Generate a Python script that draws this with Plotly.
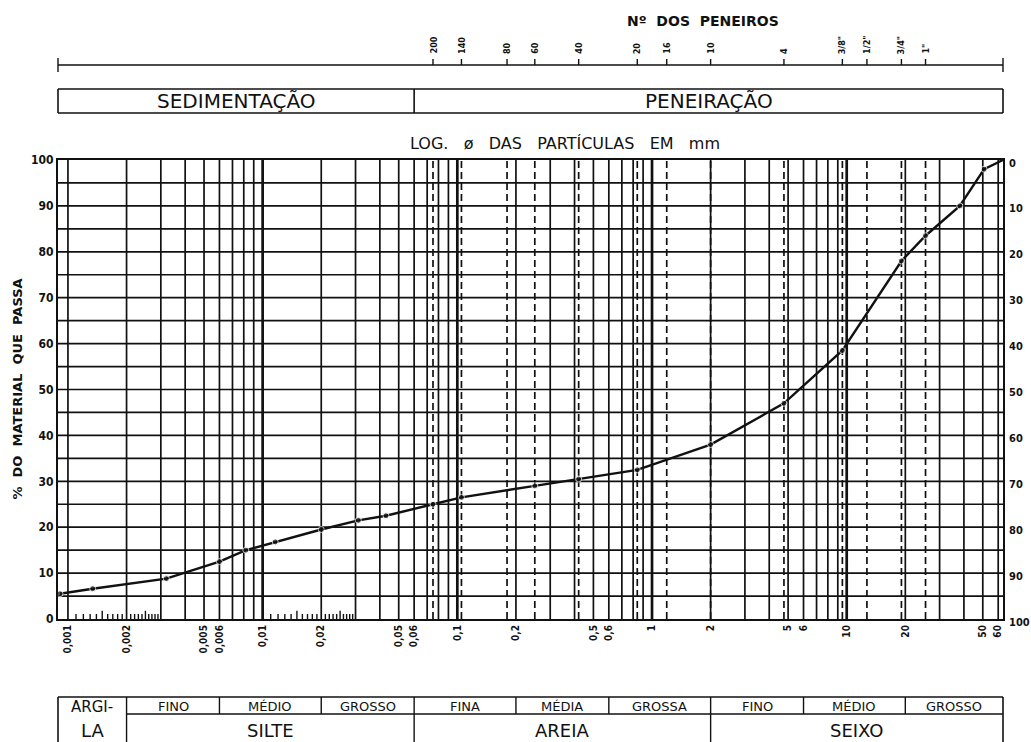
import numpy as np
import plotly.graph_objects as go

# Grain-size distribution: percent passing vs particle diameter (mm)
diam_mm = [0.00091, 0.00134, 0.0032, 0.0060, 0.0082, 0.0116, 0.020, 0.031, 0.043,
           0.075, 0.105, 0.25, 0.42, 0.84, 2.0, 4.76, 9.5, 19.1, 25.4, 38.1, 50.8, 63.5]
pct_passing = [5.5, 6.6, 8.8, 12.5, 15.0, 16.8, 19.5, 21.5, 22.5,
               25.0, 26.5, 29.0, 30.5, 32.5, 38.0, 47.0, 58.5, 78.0, 83.5, 90.0, 98.0, 100.0]

# Sieve series shown on the upper scale
sieve_names = ["200", "140", "80", "60", "40", "20", "16", "10", "4", '3/8"', '1/2"', '3/4"', '1"']
sieve_open_mm = [0.075, 0.105, 0.18, 0.25, 0.42, 0.84, 1.19, 2.0, 4.76, 9.5, 12.7, 19.1, 25.4]

# Diameter labels under the chart
diam_tick_vals = [0.001, 0.002, 0.005, 0.006, 0.01, 0.02, 0.05, 0.06, 0.1, 0.2,
                  0.5, 0.6, 1, 2, 5, 6, 10, 20, 50, 60]
diam_tick_text = ["0,001", "0,002", "0,005", "0,006", "0,01", "0,02", "0,05", "0,06", "0,1", "0,2",
                  "0,5", "0,6", "1", "2", "5", "6", "10", "20", "50", "60"]

pct_ticks = list(range(0, 101, 10))

# Soil classification (ABNT) band limits in mm
class_limits = [0.002, 0.006, 0.02, 0.06, 0.2, 0.6, 2.0, 6.0, 20.0]
sub_names = ["FINO", "MÉDIO", "GROSSO", "FINA", "MÉDIA", "GROSSA", "FINO", "MÉDIO", "GROSSO"]
group_names = ["SILTE", "AREIA", "SEIXO"]

D_MIN, D_MAX = 0.000889, 63.5
COND = "DejaVu Sans Condensed, DejaVu Sans, sans-serif"
WIDE = "DejaVu Sans, sans-serif"
INK = "#111111"

W, H = 1031, 742
PL, PR, PT, PB = 58, 1003, 160, 619
LO, HI = np.log10(D_MIN), np.log10(D_MAX)


def xp(d):
    """diameter (mm) -> paper x"""
    return float((np.log10(d) - LO) / (HI - LO))


def yp(row):
    """pixel row -> paper y"""
    return (PB - row) / (PB - PT)


def colx(col):
    """pixel column -> paper x"""
    return (col - PL) / (PR - PL)


fig = go.Figure()

# horizontal grid every 5 %
hy = []
for v in range(5, 100, 5):
    hy += [v, v, None]
fig.add_trace(go.Scatter(x=[D_MIN, D_MAX, None] * (len(hy) // 3), y=hy, mode="lines",
                         line=dict(color=INK, width=1.7), hoverinfo="skip", showlegend=False))

# vertical log grid: 1..9 of every decade
minor_x, decade_x = [], []
for e in range(-3, 2):
    for k in range(1, 10):
        d = k * 10.0 ** e
        if d < D_MIN * 1.01 or d > D_MAX:
            continue
        if k == 1 and e > -3:
            decade_x += [d, d, None]
        else:
            minor_x += [d, d, None]
fig.add_trace(go.Scatter(x=minor_x, y=[0, 100, None] * (len(minor_x) // 3), mode="lines",
                         line=dict(color=INK, width=1.7), hoverinfo="skip", showlegend=False))
fig.add_trace(go.Scatter(x=decade_x, y=[0, 100, None] * (len(decade_x) // 3), mode="lines",
                         line=dict(color=INK, width=2.7), hoverinfo="skip", showlegend=False))

# dashed lines at the sieve openings
dash_x = []
for d in sieve_open_mm:
    dash_x += [d, d, None]
fig.add_trace(go.Scatter(x=dash_x, y=[0, 100, None] * len(sieve_open_mm), mode="lines",
                         line=dict(color=INK, width=1.7, dash="7px,4px"),
                         hoverinfo="skip", showlegend=False))

# small ruler ticks along the base of the sedimentation range
rx, ry = [], []
for base in (0.001, 0.01):
    for j in range(11, 30):
        if j == 20:
            continue
        d = base * j / 10
        h = 1.8 if j in (15, 25) else 1.1
        rx += [d, d, None]
        ry += [0, h, None]
fig.add_trace(go.Scatter(x=rx, y=ry, mode="lines", line=dict(color=INK, width=1.4),
                         hoverinfo="skip", showlegend=False))

# grading curve
sizes = [6] * (len(diam_mm) - 1) + [0]
fig.add_trace(go.Scatter(x=diam_mm, y=pct_passing, mode="lines+markers",
                         line=dict(color=INK, width=2.4),
                         marker=dict(color=INK, size=sizes),
                         cliponaxis=False, showlegend=False))

shapes = []
ann = []


def line(x0, y0, x1, y1, w=1.6):
    shapes.append(dict(type="line", xref="paper", yref="paper", x0=x0, y0=y0, x1=x1, y1=y1,
                       line=dict(color=INK, width=w), layer="above"))


def text(x, y, s, size, angle=0, xanchor="center", yanchor="middle", bold=True, family=COND):
    ann.append(dict(xref="paper", yref="paper", x=x, y=y, text=s, showarrow=False,
                    textangle=angle, xanchor=xanchor, yanchor=yanchor,
                    font=dict(family=family, size=size, color=INK,
                              weight="bold" if bold else "normal")))


# upper sieve scale
ya = yp(65)
line(0, ya, 1, ya, 1.4)
line(0, yp(58), 0, yp(72), 1.4)
line(1, yp(58), 1, yp(72), 1.4)
for name, d in zip(sieve_names, sieve_open_mm):
    line(xp(d), ya, xp(d), yp(59), 1.4)
    text(xp(d), yp(56), name, 9, angle=-90, yanchor="bottom")
text(colx(703), yp(21), "Nº  DOS  PENEIROS", 14, family=WIDE)

# sedimentation / sieving box
yb0, yb1 = yp(113), yp(89)
for a, b, c, e in [(0, yb0, 1, yb0), (0, yb1, 1, yb1), (0, yb0, 0, yb1), (1, yb0, 1, yb1),
                   (xp(0.06), yb0, xp(0.06), yb1)]:
    line(a, b, c, e, 1.6)
text(xp(0.06) / 2, (yb0 + yb1) / 2, "SEDIMENTAÇÃO", 20, bold=False, family=WIDE)
text((xp(0.06) + 1) / 2, (yb0 + yb1) / 2, "PENEIRAÇÃO", 20, bold=False, family=WIDE)

text(colx(565), yp(143), "LOG.   ø   DAS   PARTÍCULAS   EM   mm", 16, bold=False, family=WIDE)

# left title and right scale (percent retained)
text(colx(17), 0.5, "%  DO  MATERIAL  QUE  PASSA", 13, angle=-90, family=WIDE)
for v in pct_ticks:
    text(colx(1007), (100 - v) / 100 - 3 / (PB - PT), str(v), 11, xanchor="left")

# classification table
yt0, yt1, yt2 = yp(697), yp(714), yp(760)
line(0, yt0, 1, yt0, 1.6)
line(xp(0.002), yt1, 1, yt1, 1.4)
line(0, yt0, 0, yt2, 1.6)
line(1, yt0, 1, yt2, 1.6)
edges = [D_MIN] + class_limits + [D_MAX]
for d in class_limits:
    full = d in (0.002, 0.06, 2.0)
    line(xp(d), yt0, xp(d), yt2 if full else yt1, 1.4)
for i, name in enumerate(sub_names):
    a, b = xp(edges[i + 1]), xp(edges[i + 2])
    text((a + b) / 2, yp(706.5), name, 13, bold=False, family=WIDE)
groups = [(0.002, 0.06), (0.06, 2.0), (2.0, D_MAX)]
for (a, b), name in zip(groups, group_names):
    text((xp(a) + xp(b)) / 2, yp(730), name, 18, bold=False, family=WIDE)
text(xp(edges[1]) / 2, yp(706.5), "ARGI-", 15, bold=False, family=WIDE)
text(xp(edges[1]) / 2, yp(730), "LA", 18, bold=False, family=WIDE)

fig.update_layout(
    width=W, height=H,
    margin=dict(l=PL, r=W - PR, t=PT, b=H - PB),
    paper_bgcolor="white", plot_bgcolor="white",
    shapes=shapes, annotations=ann,
    font=dict(family=COND, color=INK),
    xaxis=dict(type="log", range=[LO, HI], showgrid=False, zeroline=False,
               tickvals=diam_tick_vals, ticktext=diam_tick_text, tickangle=-90,
               tickfont=dict(size=10, weight="bold"), ticks="",
               showline=True, mirror=True, linecolor=INK, linewidth=2.2),
    yaxis=dict(range=[0, 100], tickvals=pct_ticks, showgrid=False, zeroline=False,
               tickfont=dict(size=12, weight="bold"), ticks="",
               showline=True, mirror=True, linecolor=INK, linewidth=2.2),
)

fig.write_html("out.html")
